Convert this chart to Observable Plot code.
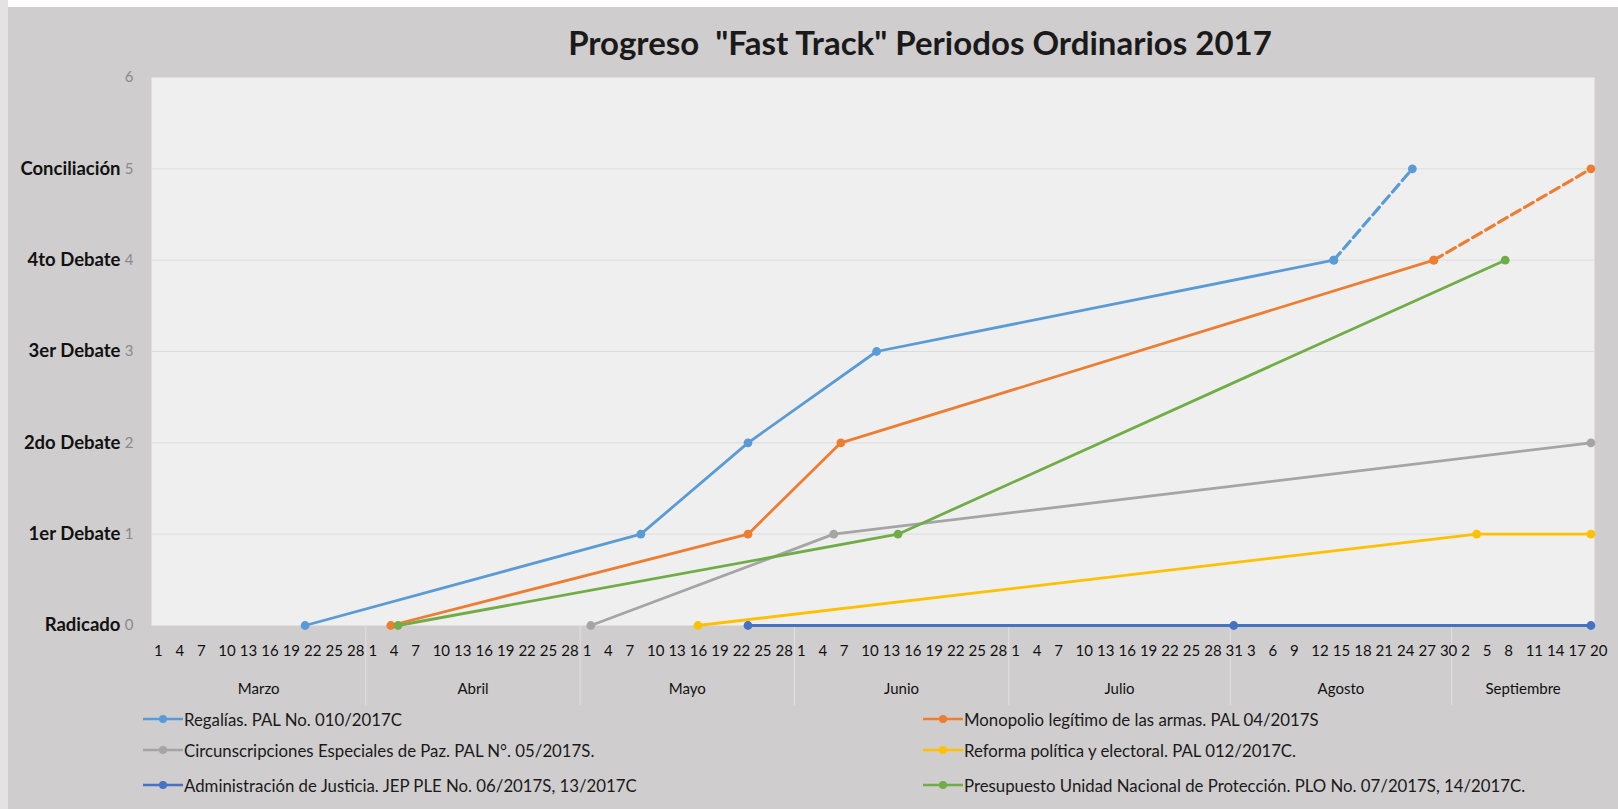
<!DOCTYPE html>
<html>
<head>
<meta charset="utf-8">
<script src="https://cdn.jsdelivr.net/npm/d3@7"></script>
<script src="https://cdn.jsdelivr.net/npm/@observablehq/plot@0.6"></script>
<style>
  html, body { margin: 0; padding: 0; background: #ffffff; }
  #chart { position: relative; width: 1618px; height: 809px; background: #d0cdce; overflow: hidden; font-family: Lato, "Open Sans", sans-serif; }
  #edgeTop { position: absolute; left: 0; top: 0; width: 1618px; height: 7px; background: #ffffff; }
  #edgeLeft { position: absolute; left: 0; top: 0; width: 8px; height: 809px; background: #e4e2e3; }
  #title { position: absolute; left: 920px; top: 21px; transform: translateX(-50%); white-space: pre; font-size: 33px; font-weight: 700; color: #1a1a1a; line-height: 42px; }
  #plotHolder { position: absolute; left: 0; top: 0; }
  .leg { position: absolute; display: flex; align-items: center; height: 22px; font-size: 16.8px; color: #1a1a1a; white-space: nowrap; }
  .leg svg { display: block; margin-right: 1px; }
</style>
</head>
<body>
<div id="chart">
  <div id="edgeTop"></div>
  <div id="edgeLeft"></div>
  <div id="plotHolder"></div>
  <div id="title"></div>
  <div id="legend"></div>
</div>
<script>
// ---------- data ----------
const titleText = 'Progreso  "Fast Track" Periodos Ordinarios 2017';
const months = ["Marzo", "Abril", "Mayo", "Junio", "Julio", "Agosto", "Septiembre"];
const monthDays = [30, 30, 30, 30, 31, 31, 20];
const dayTickStep = 3;
const stageLabels = ["Radicado", "1er Debate", "2do Debate", "3er Debate", "4to Debate", "Conciliación"];
const yTicks = [0, 1, 2, 3, 4, 5, 6];

const seriesNames = [
  "Regalías. PAL No. 010/2017C",
  "Monopolio legítimo de las armas. PAL 04/2017S",
  "Circunscripciones Especiales de Paz. PAL N°. 05/2017S.",
  "Reforma política y electoral. PAL 012/2017C.",
  "Administración de Justicia. JEP PLE No. 06/2017S, 13/2017C",
  "Presupuesto Unidad Nacional de Protección. PLO No. 07/2017S, 14/2017C."
];
const seriesColors = ["#5b9bd5", "#ed7d31", "#a5a5a5", "#ffc000", "#4472c4", "#70ad47"];

// [mes, día, etapa]
const regalias = [["Marzo", 22, 0], ["Mayo", 9, 1], ["Mayo", 24, 2], ["Junio", 12, 3], ["Agosto", 15, 4]];
const regaliasProyeccion = [["Agosto", 15, 4], ["Agosto", 26, 5]];
const monopolio = [["Abril", 4, 0], ["Mayo", 24, 1], ["Junio", 7, 2], ["Agosto", 29, 4]];
const monopolioProyeccion = [["Agosto", 29, 4], ["Septiembre", 20, 5]];
const circunscripciones = [["Mayo", 2, 0], ["Junio", 6, 1], ["Septiembre", 20, 2]];
const reforma = [["Mayo", 17, 0], ["Septiembre", 4, 1], ["Septiembre", 20, 1]];
const administracion = [["Mayo", 24, 0], ["Agosto", 1, 0], ["Septiembre", 20, 0]];
const presupuesto = [["Abril", 5, 0], ["Junio", 15, 1], ["Septiembre", 8, 4]];

const seriesSolid = [regalias, monopolio, circunscripciones, reforma, administracion, presupuesto];
const seriesDashed = [regaliasProyeccion, monopolioProyeccion, [], [], [], []];

// ---------- category positions ----------
const monthStart = [];
let acc = 0;
monthDays.forEach((n) => { monthStart.push(acc); acc += n; });
const totalDays = acc;
const pos = (m, d) => monthStart[months.indexOf(m)] + d - 1 + 0.5;

const dayTicks = [];
const dayLabelOf = new Map();
for (let i = 0; i < totalDays; i += dayTickStep) {
  let k = 0;
  while (k + 1 < months.length && i >= monthStart[k + 1]) k++;
  dayTicks.push(i + 0.5);
  dayLabelOf.set(i + 0.5, String(i - monthStart[k] + 1));
}
const monthCenters = monthStart.map((s, k) => s + monthDays[k] / 2);
const monthBounds = monthStart.slice(1);

const toRows = (arr, k) => arr.map(([m, d, s]) => ({serie: seriesNames[k], x: pos(m, d), stage: s}));

// ---------- plot ----------
const W = 1618, H = 712, mL = 151, mR = 24, mT = 77, mB = 87;
const marks = [
  Plot.frame({fill: "#efefef", stroke: "none"}),
  Plot.gridY({ticks: [1, 2, 3, 4, 5], stroke: "#dddcdc", strokeOpacity: 1, strokeWidth: 1}),
  Plot.axisX({ticks: monthBounds, tickSize: 80, tickFormat: () => "", stroke: "#e2e0e1", strokeWidth: 1, label: null}),
  Plot.axisX({ticks: dayTicks, tickSize: 0, tickPadding: 20, tickFormat: (v) => dayLabelOf.get(v), textAnchor: "start", dx: -1, fontSize: 15, fill: "#111", label: null}),
  Plot.axisX({ticks: monthCenters, tickSize: 0, tickPadding: 58, tickFormat: (v) => months[monthCenters.indexOf(v)], fontSize: 15, fill: "#111", label: null}),
  Plot.axisY({ticks: yTicks, tickSize: 0, tickPadding: 18, tickFormat: (d) => String(d), fontSize: 15, fill: "#8a8a8a", label: null}),
  Plot.axisY({ticks: [0, 1, 2, 3, 4, 5], tickSize: 0, tickPadding: 31, tickFormat: (d) => stageLabels[d], fontSize: 18.5, fontWeight: "bold", fill: "#111", label: null})
];
seriesSolid.forEach((arr, k) => {
  const solid = toRows(arr, k);
  const dashed = toRows(seriesDashed[k], k);
  marks.push(Plot.line(solid, {x: "x", y: "stage", stroke: "serie", strokeWidth: 2.8}));
  if (dashed.length) marks.push(Plot.line(dashed, {x: "x", y: "stage", stroke: "serie", strokeWidth: 3.2, strokeDasharray: "10,5"}));
  marks.push(Plot.dot(solid.concat(dashed), {x: "x", y: "stage", fill: "serie", r: 4.4}));
});

const chart = Plot.plot({
  width: W, height: H,
  marginLeft: mL, marginRight: mR, marginTop: mT, marginBottom: mB,
  style: {background: "transparent", fontFamily: "Lato, 'Open Sans', sans-serif", overflow: "visible"},
  x: {type: "linear", domain: [0, totalDays]},
  y: {domain: [0, 6]},
  color: {domain: seriesNames, range: seriesColors},
  marks
});
document.getElementById("plotHolder").appendChild(chart);
document.getElementById("title").textContent = titleText;

// ---------- legend ----------
const legend = document.getElementById("legend");
const legendCols = [143, 923];
const legendRows = [719, 750, 785];
seriesNames.forEach((name, k) => {
  const col = k % 2, row = Math.floor(k / 2);
  const item = document.createElement("div");
  item.className = "leg";
  item.style.left = legendCols[col] + "px";
  item.style.top = (legendRows[row] - 11) + "px";
  const c = seriesColors[k];
  item.innerHTML = `<svg width="40" height="12"><line x1="0" x2="40" y1="6" y2="6" stroke="${c}" stroke-width="2.6"/><circle cx="20" cy="6" r="4" fill="${c}"/></svg>`;
  const span = document.createElement("span");
  span.textContent = name;
  item.appendChild(span);
  legend.appendChild(item);
});
</script>
</body>
</html>
